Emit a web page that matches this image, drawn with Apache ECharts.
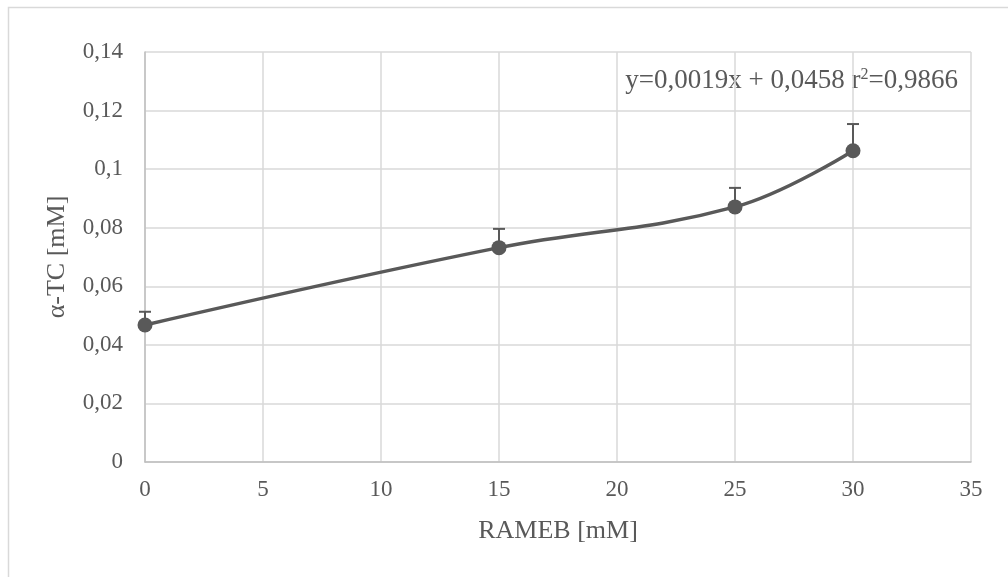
<!DOCTYPE html>
<html>
<head>
<meta charset="utf-8">
<script src="https://cdn.jsdelivr.net/npm/echarts@6/dist/echarts.min.js"></script>
<style>
  html, body { margin: 0; padding: 0; background: #fff; }
  #chart { width: 1008px; height: 577px; }
</style>
</head>
<body>
<div id="chart"></div>
<script>
// RAMEB concentration (mM) and measured alpha-TC solubility (mM)
const rameb = [0, 15, 25, 30];
const alphaTC = [0.0468, 0.0732, 0.0871, 0.1063];
// upper error (standard deviation) for each point
const errPlus = [0.0045, 0.0064, 0.0065, 0.0091];

const xTicks = { min: 0, max: 35, interval: 5 };
const yTicks = { min: 0, max: 0.14, interval: 0.02 };

const equationText = 'y=0,0019x + 0,0458 r{sup|2}=0,9866';

const FONT = '"Liberation Serif", "Times New Roman", serif';
const TXT = '#595959';
const LINE = '#595959';

const points = rameb.map((x, i) => [x, alphaTC[i]]);
const errData = rameb.map((x, i) => [x, alphaTC[i], alphaTC[i] + errPlus[i]]);

const chart = echarts.init(document.getElementById('chart'), null, { renderer: 'canvas' });

chart.setOption({
  backgroundColor: '#ffffff',
  animation: false,
  grid: { left: 145, right: 37, top: 52, bottom: 115, containLabel: false },
  graphic: [
    {
      type: 'rect',
      shape: { x: 8.5, y: 7.5, width: 1010, height: 580 },
      style: { fill: 'none', stroke: '#d9d9d9', lineWidth: 1.5 },
      silent: true
    },
    {
      type: 'text',
      right: 50,
      top: 67,
      style: {
        text: equationText,
        font: '27px ' + FONT,
        fill: TXT,
        rich: {
          sup: { fontSize: 16, fontFamily: FONT, fill: TXT, verticalAlign: 'top', padding: [0, 0, 11, 0] }
        }
      }
    }
  ],
  xAxis: {
    type: 'value',
    min: xTicks.min,
    max: xTicks.max,
    interval: xTicks.interval,
    name: 'RAMEB [mM]',
    nameLocation: 'middle',
    nameGap: 56,
    nameTextStyle: { fontFamily: FONT, fontSize: 26, color: TXT },
    axisLine: { show: true, lineStyle: { color: '#bfbfbf', width: 1.5 } },
    axisTick: { show: false },
    axisLabel: { fontFamily: FONT, fontSize: 23, color: TXT, margin: 16 },
    splitLine: { show: true, lineStyle: { color: '#d9d9d9', width: 1.5 } }
  },
  yAxis: {
    type: 'value',
    min: yTicks.min,
    max: yTicks.max,
    interval: yTicks.interval,
    name: 'α-TC [mM]',
    nameLocation: 'middle',
    nameGap: 75,
    nameTextStyle: { fontFamily: FONT, fontSize: 26, color: TXT },
    axisLine: { show: true, lineStyle: { color: '#bfbfbf', width: 1.5 } },
    axisTick: { show: false },
    axisLabel: {
      fontFamily: FONT, fontSize: 23, color: TXT, margin: 22,
      formatter: v => String(Math.round(v * 100) / 100).replace('.', ',')
    },
    splitLine: { show: true, lineStyle: { color: '#d9d9d9', width: 1.5 } }
  },
  series: [
    {
      type: 'line',
      data: points,
      smooth: 0.4,
      symbol: 'circle',
      symbolSize: 15,
      lineStyle: { color: LINE, width: 3.5 },
      itemStyle: { color: LINE },
      z: 3
    },
    {
      type: 'custom',
      data: errData,
      encode: { x: 0, y: [1, 2] },
      z: 2,
      renderItem: (params, api) => {
        const base = api.coord([api.value(0), api.value(1)]);
        const top = api.coord([api.value(0), api.value(2)]);
        const half = 6;
        const style = { stroke: LINE, lineWidth: 2, fill: 'none' };
        return {
          type: 'group',
          children: [
            { type: 'line', shape: { x1: base[0], y1: base[1], x2: top[0], y2: top[1] }, style },
            { type: 'line', shape: { x1: top[0] - half, y1: top[1], x2: top[0] + half, y2: top[1] }, style }
          ]
        };
      }
    }
  ]
});
</script>
</body>
</html>
